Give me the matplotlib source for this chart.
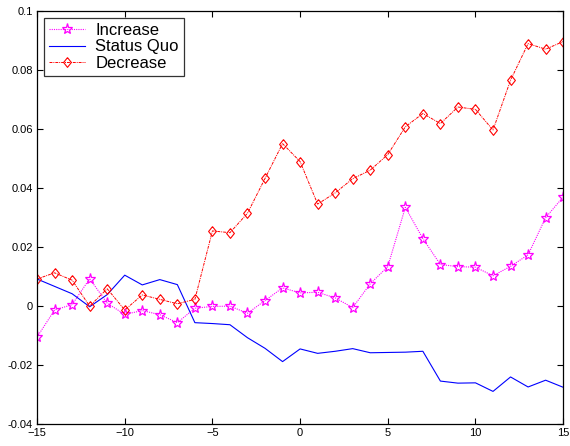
import matplotlib
matplotlib.use("Agg")
import matplotlib.pyplot as plt
import numpy as np

# -----------------------------
#   DATA
# -----------------------------
lags = list(range(-15, 16))

increase = [-0.0105, -0.0013, 0.0005, 0.0093, 0.0010, -0.0028, -0.0015, -0.0029,
            -0.0056, -0.0007, -0.0001, 0.0000, -0.0024, 0.0019, 0.0062, 0.0045,
            0.0047, 0.0028, -0.0005, 0.0076, 0.0134, 0.0335, 0.0229, 0.0141,
            0.0134, 0.0132, 0.0103, 0.0135, 0.0174, 0.0300, 0.0370]

status_quo = [0.0092, 0.0067, 0.0042, -0.0002, 0.0039, 0.0105, 0.0072, 0.0090,
              0.0073, -0.0056, -0.0059, -0.0063, -0.0107, -0.0143, -0.0188, -0.0145,
              -0.0160, -0.0153, -0.0144, -0.0158, -0.0157, -0.0156, -0.0153, -0.0254,
              -0.0261, -0.0260, -0.0289, -0.0240, -0.0274, -0.0251, -0.0275]

decrease = [0.0092, 0.0113, 0.0088, 0.0000, 0.0059, -0.0013, 0.0038, 0.0023,
            0.0008, 0.0023, 0.0255, 0.0249, 0.0315, 0.0433, 0.0551, 0.0490,
            0.0346, 0.0384, 0.0432, 0.0461, 0.0514, 0.0608, 0.0653, 0.0619,
            0.0675, 0.0667, 0.0597, 0.0766, 0.0890, 0.0871, 0.0897]

x_ticks = [-15, -10, -5, 0, 5, 10, 15]
y_ticks = [-0.04, -0.02, 0, 0.02, 0.04, 0.06, 0.08, 0.1]
y_labels = ["-0.04", "-0.02", "0", "0.02", "0.04", "0.06", "0.08", "0.1"]

# MATLAB-like diamond, a bit taller than wide
diamond = [(0, 1), (0.8, 0), (0, -1), (-0.8, 0), (0, 1)]

# -----------------------------
#   PLOT
# -----------------------------
plt.rcParams["font.family"] = ["Liberation Sans", "DejaVu Sans"]

fig = plt.figure(figsize=(5.70, 4.46), dpi=100)
ax = fig.add_axes([0.065, 0.049, 0.923, 0.926])

ax.plot(lags, increase, color="#ff00ff", linestyle=(0, (1, 1)), linewidth=0.8,
        marker="*", markersize=8, markerfacecolor="none", markeredgewidth=0.9,
        label="Increase")
ax.plot(lags, status_quo, color="#0000ff", linestyle="-", linewidth=0.8,
        label="Status Quo")
ax.plot(lags, decrease, color="#ff0000", linestyle=(0, (3, 1, 1, 1)), linewidth=0.7,
        marker=diamond, markersize=7, markerfacecolor="none", markeredgewidth=0.8,
        label="Decrease")

ax.set_xlim(-15, 15)
ax.set_ylim(-0.04, 0.1)
ax.set_xticks(x_ticks)
ax.set_yticks(y_ticks)
ax.set_yticklabels(y_labels)
ax.tick_params(direction="in", top=True, right=True, length=4, width=0.8,
               labelsize=8, pad=3)
for s in ax.spines.values():
    s.set_linewidth(0.9)

leg = ax.legend(loc="upper left", fontsize=12, frameon=True, fancybox=False,
                edgecolor="black", borderpad=0.3, labelspacing=0.1,
                handlelength=2.2, handletextpad=0.6, borderaxespad=0.4)
leg.get_frame().set_linewidth(0.9)

fig.savefig("out.png", dpi=100)
